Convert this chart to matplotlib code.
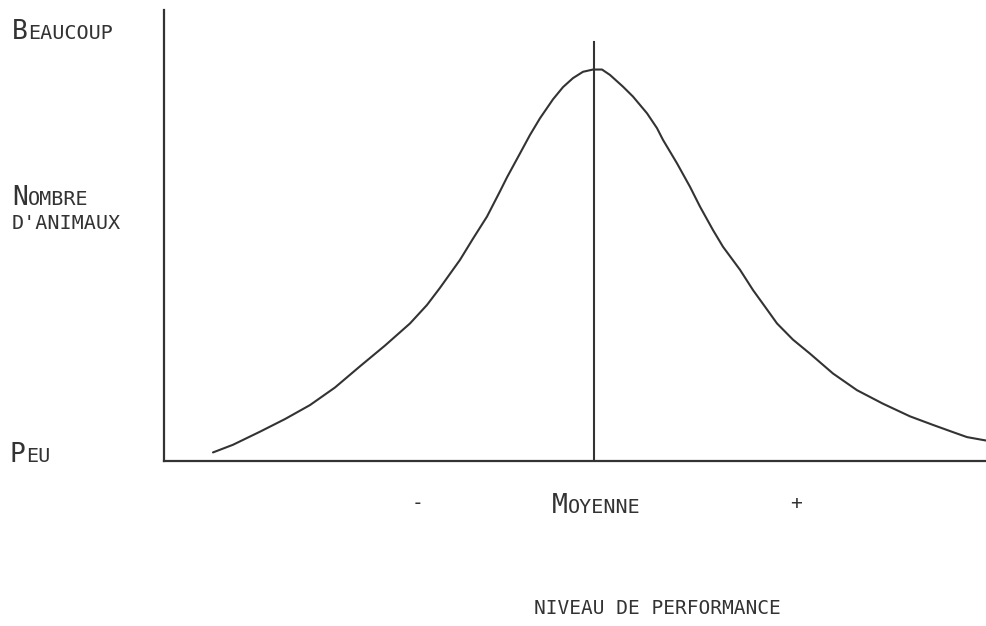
import matplotlib
matplotlib.use('Agg')
import matplotlib.pyplot as plt

# courbe (x: ecart a la moyenne, y: nombre d'animaux 0-100)
perf = [-3.81, -3.61, -3.34, -3.09, -2.84, -2.59, -2.34, -2.09, -1.84, -1.67,
        -1.54, -1.34, -1.21, -1.07, -0.94, -0.87, -0.74, -0.64, -0.54, -0.41,
        -0.31, -0.21, -0.11, -0.01, 0.08, 0.16, 0.29, 0.39, 0.53, 0.63,
        0.69, 0.83, 0.96, 1.06, 1.19, 1.29, 1.46, 1.59, 1.73, 1.83,
        1.99, 2.16, 2.39, 2.63, 2.89, 3.16, 3.39, 3.59, 3.73, 3.93]
nombre = [1.9, 3.6, 6.5, 9.3, 12.4, 16.3, 21.0, 25.6, 30.5, 34.6,
          38.4, 44.6, 49.3, 54.2, 59.8, 62.9, 68.2, 72.3, 76.0, 80.2,
          82.9, 84.9, 86.3, 86.8, 86.8, 85.6, 83.0, 80.8, 77.1, 73.8,
          71.2, 66.0, 60.8, 56.4, 51.2, 47.5, 42.4, 37.9, 33.6, 30.5,
          26.9, 23.8, 19.4, 15.7, 12.7, 9.9, 8.0, 6.4, 5.3, 4.5]
moyenne = 0.0
moyenne_haut = 93.0

W, H = 987, 626
ink = '#333333'
mono = 'DejaVu Sans Mono'

fig = plt.figure(figsize=(W / 100, H / 100), dpi=100)
ax = fig.add_axes([164 / W, 1 - 461 / H, 823 / W, 451 / H])
ax.set_xlim(-4.30, 3.93)
ax.set_ylim(0, 100)
ax.plot(perf, nombre, color=ink, lw=1.5, solid_capstyle='round', solid_joinstyle='round')
ax.plot([moyenne, moyenne], [0, moyenne_haut], color=ink, lw=1.5)
for s in ['top', 'right']:
    ax.spines[s].set_visible(False)
for s in ['left', 'bottom']:
    ax.spines[s].set_color(ink)
    ax.spines[s].set_linewidth(1.6)
ax.set_xticks([])
ax.set_yticks([])


def fx(px):
    return px / W


def fy(py):
    return 1 - py / H


def petites_caps(x, y, mot, big=19, small=14.5):
    # premiere lettre grande, le reste en petites capitales
    t1 = fig.text(fx(x), fy(y), mot[0], fontsize=big, family=mono, color=ink, va='baseline')
    ax.annotate(mot[1:].upper(), xy=(1, fy(y)), xycoords=(t1, 'figure fraction'),
                xytext=(0.3, 0), textcoords='offset points',
                fontsize=small, family=mono, color=ink, va='baseline', annotation_clip=False)


petites_caps(12, 39, 'Beaucoup')
petites_caps(12, 205, 'Nombre')
fig.text(fx(12), fy(229), "D'ANIMAUX", fontsize=14.5, family=mono, color=ink, va='baseline')
petites_caps(10, 462, 'Peu')
petites_caps(552, 513, 'Moyenne')
fig.text(fx(418), fy(503), '-', fontsize=14, family=mono, color=ink, ha='center', va='center')
fig.text(fx(796), fy(503), '+', fontsize=14, family=mono, color=ink, ha='center', va='center')
fig.text(fx(657), fy(609), 'NIVEAU DE PERFORMANCE', fontsize=14, family=mono, color=ink,
         ha='center', va='center')

fig.savefig('out.png', dpi=100)
